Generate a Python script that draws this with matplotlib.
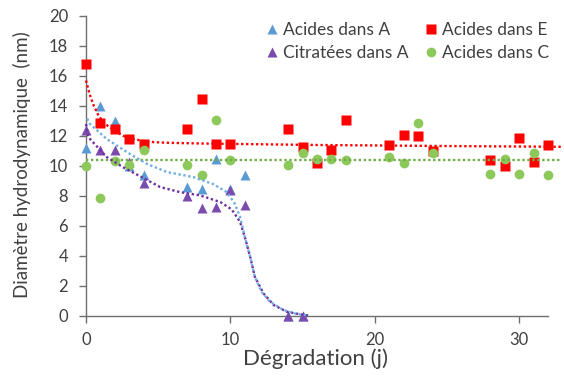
import matplotlib
matplotlib.use("Agg")
import matplotlib.pyplot as plt

# -- Data ---------------------------------------------------------------------
days_a = [0, 1, 2, 3, 4, 7, 8, 9, 10, 11, 14, 15]
acides_a = [11.2, 14.0, 13.0, 10.0, 9.4, 8.6, 8.5, 10.5, 8.5, 9.4, 0, 0]
citrates_a = [12.4, 11.1, 11.1, 10.3, 8.9, 8.0, 7.2, 7.3, 8.4, 7.4, 0, 0]

days_ec = [0, 1, 2, 3, 4, 7, 8, 9, 10, 14, 15, 16, 17, 18, 21, 22, 23, 24,
           28, 29, 30, 31, 32]
acides_e = [16.8, 12.85, 12.5, 11.8, 11.5, 12.5, 14.45, 11.5, 11.5, 12.5, 11.3,
            10.2, 11.1, 13.1, 11.4, 12.1, 12.0, 11.0, 10.4, 10.0, 11.9, 10.3, 11.4]
acides_c = [10.0, 7.85, 10.35, 10.1, 11.1, 10.1, 9.4, 13.1, 10.4, 10.1, 10.9,
            10.5, 10.5, 10.4, 10.6, 10.2, 12.9, 10.9, 9.5, 10.5, 9.5, 10.85, 9.4]

# fitted curves (dotted)
fit_e_x = [0, 0.25, 0.5, 0.85, 1.2, 1.9, 2.6, 3.3, 4.2, 5.5, 8, 12, 16, 20, 25, 33]
fit_e_y = [15.7, 14.8, 14.1, 13.4, 12.9, 12.4, 12.0, 11.8, 11.62, 11.55, 11.5,
           11.45, 11.4, 11.37, 11.33, 11.28]

fit_a_x = [0, 0.28, 1.43, 3.05, 4.2, 5.6, 7.44, 8.8, 9.75, 10.3, 10.67, 11.0,
           11.37, 11.7, 12.17, 12.75, 13.67, 14.6, 15.4]
fit_a_y = [13.3, 12.8, 11.8, 10.8, 10.15, 9.6, 9.26, 8.8, 8.26, 7.5, 6.6, 5.27,
           3.94, 2.6, 1.6, 0.95, 0.4, 0.13, 0.05]

fit_cit_x = [0, 0.16, 0.28, 1.43, 2.6, 3.97, 5.13, 6.5, 7.9, 9.3, 10.1, 10.67,
             11.0, 11.37, 11.7, 12.3, 13.0, 13.9, 14.83, 15.5]
fit_cit_y = [12.8, 12.0, 11.8, 10.6, 9.9, 9.2, 8.6, 8.26, 8.04, 7.6, 7.1, 6.27,
             5.27, 3.94, 2.6, 1.5, 0.73, 0.29, 0.11, 0.02]

fit_c_x = [0, 33]
fit_c_y = [10.4, 10.4]

# -- Plot -----------------------------------------------------------------
plt.rcParams["font.family"] = ["Lato", "DejaVu Sans"]
text_col = "#404040"
axis_col = "#6e6e6e"

fig = plt.figure(figsize=(5.64, 3.83), dpi=100)
ax = fig.add_axes([86 / 564, 67 / 383, 462 / 564, 300 / 383])

blue, purple, red, green = "#5B9BD5", "#7030A0", "#FF0000", "#8CC85A"

mk = dict(mec="none", ls="none", clip_on=False, zorder=3)
ax.plot(days_a, acides_a, "^", color=blue, ms=7, label="Acides dans A", **mk)
ax.plot(days_a, citrates_a, "^", color="#7B4BAE", ms=7, label="Citratées dans A", **mk)
ax.plot(days_ec, acides_e, "s", color=red, ms=7, label="Acides dans E", **mk)
ax.plot(days_ec, acides_c, "o", color=green, ms=7, label="Acides dans C", **mk)

ax.plot(fit_e_x, fit_e_y, color=red, lw=1.7, ls=(0, (1, 1.1)), clip_on=False, zorder=4)
ax.plot(fit_c_x, fit_c_y, color="#70AD47", lw=1.7, ls=(0, (1, 1.1)), clip_on=False, zorder=4)
ax.plot(fit_cit_x, fit_cit_y, color=purple, lw=1.7, ls=(0, (1, 1.1)), clip_on=False, zorder=4)
ax.plot(fit_a_x, fit_a_y, color="#6FAEE0", lw=1.7, ls=(1.05, (1, 1.1)), clip_on=False, zorder=5)

ax.set_xlim(0, 32)
ax.set_ylim(0, 20)
ax.set_xticks([0, 10, 20, 30])
ax.set_yticks(range(0, 21, 2))
for s in ["top", "right"]:
    ax.spines[s].set_visible(False)
for s in ["left", "bottom"]:
    ax.spines[s].set_color(axis_col)
    ax.spines[s].set_linewidth(1.0)
ax.tick_params(colors=axis_col, labelcolor=text_col, labelsize=12, length=5, width=1)
ax.tick_params(axis="y", pad=8)
ax.tick_params(axis="x", pad=6.5)

ax.set_xlabel("Dégradation (j)", fontsize=16, color=text_col, va="baseline")
ax.xaxis.set_label_coords(0.497, -0.163)
ax.set_ylabel("Diamètre hydrodynamique  (nm)", fontsize=13.5, color=text_col, va="center")
ax.yaxis.set_label_coords(-64 / 462, 0.505)

ax.legend(loc="upper right", bbox_to_anchor=(558 / 564, 369.5 / 383),
          bbox_transform=fig.transFigure, ncol=2, frameon=False, borderpad=0,
          fontsize=12.5, handlelength=0.7, handletextpad=0.32, columnspacing=0.9,
          labelspacing=0.4, labelcolor=text_col)

fig.savefig("out.png", dpi=100)
